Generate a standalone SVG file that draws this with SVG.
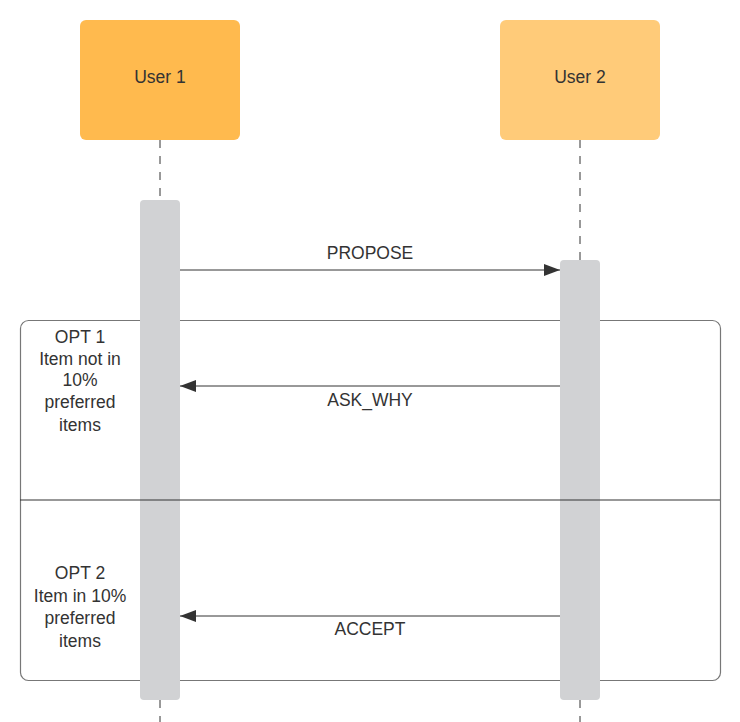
<svg xmlns="http://www.w3.org/2000/svg" width="740" height="722" viewBox="0 0 740 722">
<defs>
<style>
text{font-family:"Liberation Sans",Arial,sans-serif;font-size:17.5px;fill:#333;text-anchor:middle}
.life{stroke:#333;stroke-width:1;stroke-dasharray:8,8;fill:none}
.bar{fill:#D1D2D4}
.msg{stroke:#333;stroke-width:1;fill:none}
</style>
<marker id="ah" viewBox="0 0 16 12" refX="16" refY="6" markerWidth="16" markerHeight="12" markerUnits="userSpaceOnUse" orient="auto">
<path d="M0,0 L16,6 L0,12 Z" fill="#333"/>
</marker>
</defs>
<rect width="740" height="722" fill="#fff"/>
<g id="lifelines">
<line class="life" x1="160" y1="140" x2="160" y2="722"/>
<line class="life" x1="580" y1="140" x2="580" y2="722"/>
</g>
<g id="user1">
<rect x="80" y="20" width="160" height="120" rx="6" fill="#FFBA4E"/>
<text x="160" y="83">User 1</text>
</g>
<g id="user2">
<rect x="500" y="20" width="160" height="120" rx="6" fill="#FFCB79"/>
<text x="580" y="83">User 2</text>
</g>
<g id="fragment">
<rect x="20.5" y="320.5" width="700" height="360" rx="8" fill="none" stroke="#777" stroke-width="1.2"/>
<text x="80" y="343">OPT 1</text>
<text x="80" y="365">Item not in</text>
<text x="80" y="386">10%</text>
<text x="80" y="408">preferred</text>
<text x="80" y="431">items</text>
<text x="80" y="579">OPT 2</text>
<text x="80" y="602">Item in 10%</text>
<text x="80" y="624">preferred</text>
<text x="80" y="647">items</text>
</g>
<g id="activation1"><rect class="bar" x="140" y="200" width="40" height="500" rx="4"/></g>
<g id="activation2"><rect class="bar" x="560" y="260" width="40" height="440" rx="4"/></g>
<line x1="20" y1="500" x2="720" y2="500" stroke="#333" stroke-width="1.2"/>
<g id="connectors">
<line class="msg" x1="180" y1="270" x2="560" y2="270" marker-end="url(#ah)"/>
<text x="370" y="259">PROPOSE</text>
<line class="msg" x1="560" y1="386" x2="180" y2="386" marker-end="url(#ah)"/>
<text x="370" y="406">ASK_WHY</text>
<line class="msg" x1="560" y1="616" x2="180" y2="616" marker-end="url(#ah)"/>
<text x="370" y="635">ACCEPT</text>
</g>
</svg>
